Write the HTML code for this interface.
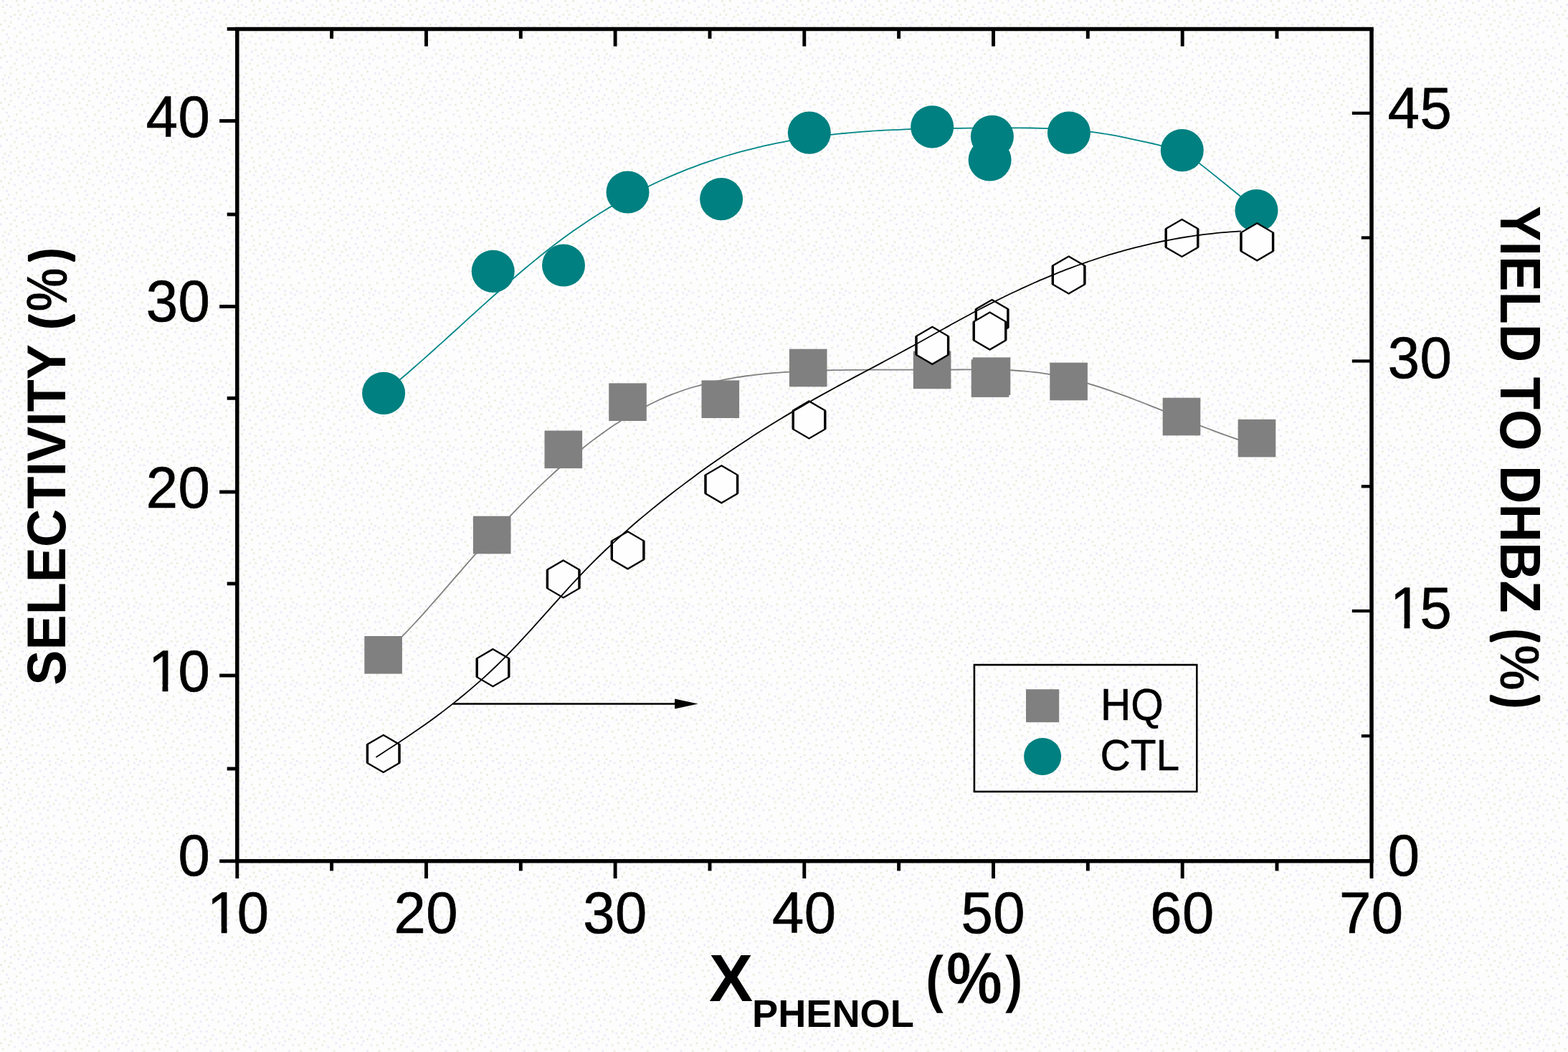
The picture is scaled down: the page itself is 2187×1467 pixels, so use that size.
<!DOCTYPE html>
<html lang="en"><head><meta charset="utf-8"><title>Selectivity and yield vs phenol conversion</title>
<style>
html,body{margin:0;padding:0;background:#fdfdfd;}
body{width:2187px;height:1467px;}
svg{display:block;}
text{font-family:"Liberation Sans",Arial,Helvetica,sans-serif;fill:#000;font-kerning:none;}
.tk{font-size:79.6px;letter-spacing:0.5px;stroke:#000;stroke-width:0.7px;}
.lg{font-size:58.6px;stroke:#000;stroke-width:0.5px;}
.b{font-weight:bold;}
</style></head><body>
<svg width="2187" height="1467" viewBox="0 0 2187 1467">
<defs><pattern id="dz" x="0" y="0" width="109.350" height="109.274" patternUnits="userSpaceOnUse">
<path d="M54.7 24.6h2.73v2.73h-2.73zM98.4 8.2h2.73v2.73h-2.73zM49.2 65.6h2.73v2.73h-2.73zM71.1 92.9h2.73v2.73h-2.73zM82.0 27.3h2.73v2.73h-2.73zM60.1 2.7h2.73v2.73h-2.73zM95.7 95.6h2.73v2.73h-2.73zM54.7 90.2h2.73v2.73h-2.73zM68.3 76.5h2.73v2.73h-2.73zM43.7 46.4h2.73v2.73h-2.73zM30.1 32.8h2.73v2.73h-2.73zM76.5 0.0h2.73v2.73h-2.73zM106.6 24.6h2.73v2.73h-2.73zM38.3 79.2h2.73v2.73h-2.73zM65.6 35.5h2.73v2.73h-2.73zM8.2 46.4h2.73v2.73h-2.73zM54.7 41.0h2.73v2.73h-2.73zM90.2 79.2h2.73v2.73h-2.73zM0.0 92.9h2.73v2.73h-2.73zM49.2 16.4h2.73v2.73h-2.73zM13.7 8.2h2.73v2.73h-2.73zM54.7 79.2h2.73v2.73h-2.73zM92.9 19.1h2.73v2.73h-2.73zM62.9 57.4h2.73v2.73h-2.73zM71.1 8.2h2.73v2.73h-2.73zM32.8 51.9h2.73v2.73h-2.73zM2.7 0.0h2.73v2.73h-2.73zM46.5 79.2h2.73v2.73h-2.73zM13.7 76.5h2.73v2.73h-2.73zM95.7 60.1h2.73v2.73h-2.73zM92.9 0.0h2.73v2.73h-2.73zM82.0 82.0h2.73v2.73h-2.73zM73.8 43.7h2.73v2.73h-2.73zM84.7 101.1h2.73v2.73h-2.73zM24.6 24.6h2.73v2.73h-2.73zM38.3 87.4h2.73v2.73h-2.73zM60.1 16.4h2.73v2.73h-2.73zM35.5 27.3h2.73v2.73h-2.73zM30.1 76.5h2.73v2.73h-2.73zM84.7 49.2h2.73v2.73h-2.73zM19.1 57.4h2.73v2.73h-2.73zM8.2 84.7h2.73v2.73h-2.73zM21.9 82.0h2.73v2.73h-2.73zM57.4 49.2h2.73v2.73h-2.73zM79.3 35.5h2.73v2.73h-2.73zM98.4 84.7h2.73v2.73h-2.73zM68.3 30.1h2.73v2.73h-2.73zM10.9 106.5h2.73v2.73h-2.73zM76.5 87.4h2.73v2.73h-2.73zM32.8 101.1h2.73v2.73h-2.73zM84.7 76.5h2.73v2.73h-2.73zM57.4 68.3h2.73v2.73h-2.73zM46.5 92.9h2.73v2.73h-2.73zM51.9 2.7h2.73v2.73h-2.73zM21.9 71.0h2.73v2.73h-2.73zM92.9 51.9h2.73v2.73h-2.73zM62.9 87.4h2.73v2.73h-2.73zM68.3 16.4h2.73v2.73h-2.73zM46.5 27.3h2.73v2.73h-2.73zM41.0 13.7h2.73v2.73h-2.73zM35.5 38.2h2.73v2.73h-2.73zM10.9 51.9h2.73v2.73h-2.73zM35.5 60.1h2.73v2.73h-2.73zM76.5 21.9h2.73v2.73h-2.73zM76.5 79.2h2.73v2.73h-2.73zM8.2 5.5h2.73v2.73h-2.73zM60.1 98.3h2.73v2.73h-2.73zM19.1 38.2h2.73v2.73h-2.73zM13.7 21.9h2.73v2.73h-2.73zM60.1 32.8h2.73v2.73h-2.73zM106.6 5.5h2.73v2.73h-2.73zM90.2 101.1h2.73v2.73h-2.73zM57.4 10.9h2.73v2.73h-2.73z" fill="#e9e9f8"/>
<path d="M101.1 68.3h2.73v2.73h-2.73zM19.1 87.4h2.73v2.73h-2.73zM24.6 13.7h2.73v2.73h-2.73zM10.9 35.5h2.73v2.73h-2.73zM27.3 60.1h2.73v2.73h-2.73zM73.8 57.4h2.73v2.73h-2.73zM41.0 101.1h2.73v2.73h-2.73zM90.2 43.7h2.73v2.73h-2.73zM106.6 49.2h2.73v2.73h-2.73zM43.7 8.2h2.73v2.73h-2.73zM13.7 65.6h2.73v2.73h-2.73zM13.7 101.1h2.73v2.73h-2.73zM0.0 79.2h2.73v2.73h-2.73zM95.7 32.8h2.73v2.73h-2.73zM76.5 68.3h2.73v2.73h-2.73zM21.9 49.2h2.73v2.73h-2.73zM65.6 46.4h2.73v2.73h-2.73zM79.3 13.7h2.73v2.73h-2.73zM32.8 0.0h2.73v2.73h-2.73zM30.1 90.2h2.73v2.73h-2.73zM32.8 10.9h2.73v2.73h-2.73zM38.3 21.9h2.73v2.73h-2.73zM5.5 16.4h2.73v2.73h-2.73zM27.3 68.3h2.73v2.73h-2.73zM21.9 0.0h2.73v2.73h-2.73zM51.9 101.1h2.73v2.73h-2.73zM87.5 65.6h2.73v2.73h-2.73zM27.3 43.7h2.73v2.73h-2.73zM2.7 8.2h2.73v2.73h-2.73zM2.7 68.3h2.73v2.73h-2.73zM103.9 41.0h2.73v2.73h-2.73zM41.0 35.5h2.73v2.73h-2.73zM0.0 60.1h2.73v2.73h-2.73zM103.9 103.8h2.73v2.73h-2.73zM65.6 24.6h2.73v2.73h-2.73zM41.0 68.3h2.73v2.73h-2.73zM65.6 68.3h2.73v2.73h-2.73zM51.9 54.6h2.73v2.73h-2.73zM51.9 32.8h2.73v2.73h-2.73zM24.6 5.5h2.73v2.73h-2.73zM87.5 92.9h2.73v2.73h-2.73zM65.6 103.8h2.73v2.73h-2.73zM98.4 76.5h2.73v2.73h-2.73zM73.8 27.3h2.73v2.73h-2.73zM13.7 30.1h2.73v2.73h-2.73zM43.7 54.6h2.73v2.73h-2.73zM0.0 32.8h2.73v2.73h-2.73zM95.7 24.6h2.73v2.73h-2.73zM103.9 13.7h2.73v2.73h-2.73zM5.5 27.3h2.73v2.73h-2.73zM19.1 19.1h2.73v2.73h-2.73zM73.8 98.3h2.73v2.73h-2.73zM27.3 19.1h2.73v2.73h-2.73zM68.3 0.0h2.73v2.73h-2.73zM101.1 19.1h2.73v2.73h-2.73zM35.5 73.8h2.73v2.73h-2.73zM87.5 35.5h2.73v2.73h-2.73zM87.5 16.4h2.73v2.73h-2.73zM84.7 2.7h2.73v2.73h-2.73zM21.9 95.6h2.73v2.73h-2.73zM13.7 92.9h2.73v2.73h-2.73zM5.5 103.8h2.73v2.73h-2.73zM60.1 73.8h2.73v2.73h-2.73zM101.1 98.3h2.73v2.73h-2.73zM49.2 106.5h2.73v2.73h-2.73zM5.5 76.5h2.73v2.73h-2.73zM79.3 73.8h2.73v2.73h-2.73zM43.7 84.7h2.73v2.73h-2.73zM43.7 19.1h2.73v2.73h-2.73zM68.3 82.0h2.73v2.73h-2.73zM2.7 41.0h2.73v2.73h-2.73zM8.2 57.4h2.73v2.73h-2.73z" fill="#ecebdd"/>
</pattern></defs>
<rect x="0" y="0" width="2187" height="1467" fill="#fdfdfd"/>
<rect x="0" y="0" width="2187" height="1467" fill="url(#dz)"/>
<path d="M534.6 913.3 C537.2 910.9 544.9 903.7 550.0 898.6 C555.2 893.5 560.3 888.2 565.4 882.9 C570.6 877.5 575.7 872.0 580.9 866.4 C586.0 860.8 591.2 855.1 596.3 849.3 C601.4 843.5 606.6 837.7 611.7 831.8 C616.9 825.9 622.0 820.0 627.1 814.1 C632.3 808.2 637.4 802.2 642.6 796.3 C647.7 790.4 652.8 784.5 658.0 778.7 C663.1 772.8 668.3 767.0 673.4 761.3 C678.5 755.5 683.7 749.8 688.8 744.1 C694.0 738.5 699.1 732.9 704.3 727.4 C709.4 721.9 714.5 716.5 719.7 711.1 C724.8 705.8 730.0 700.5 735.1 695.4 C740.2 690.2 745.4 685.2 750.5 680.2 C755.7 675.2 760.8 670.3 765.9 665.6 C771.1 660.8 776.2 656.1 781.4 651.5 C786.5 647.0 791.6 642.5 796.8 638.2 C801.9 633.8 807.1 629.6 812.2 625.5 C817.4 621.3 822.5 617.3 827.6 613.4 C832.8 609.6 837.9 605.8 843.1 602.2 C848.2 598.5 853.3 595.0 858.5 591.6 C863.6 588.2 868.8 585.0 873.9 581.8 C879.0 578.7 884.2 575.7 889.3 572.9 C894.5 570.0 899.6 567.3 904.7 564.7 C909.9 562.1 915.0 559.6 920.2 557.3 C925.3 555.0 930.5 552.8 935.6 550.7 C940.7 548.7 945.9 546.8 951.0 545.0 C956.2 543.2 961.3 541.6 966.4 540.0 C971.6 538.5 976.7 537.1 981.9 535.8 C987.0 534.4 992.1 533.2 997.3 532.1 C1002.4 530.9 1007.6 529.9 1012.7 528.9 C1017.8 528.0 1023.0 527.1 1028.1 526.2 C1033.3 525.4 1038.4 524.7 1043.6 524.0 C1048.7 523.3 1053.8 522.7 1059.0 522.1 C1064.1 521.5 1069.3 521.0 1074.4 520.5 C1079.5 520.1 1084.7 519.7 1089.8 519.3 C1095.0 518.9 1100.1 518.6 1105.2 518.3 C1110.4 518.0 1115.5 517.7 1120.7 517.5 C1125.8 517.3 1130.9 517.1 1136.1 516.9 C1141.2 516.8 1146.4 516.6 1151.5 516.5 C1156.7 516.4 1161.8 516.3 1166.9 516.2 C1172.1 516.1 1177.2 516.0 1182.4 515.9 C1187.5 515.9 1192.6 515.8 1197.8 515.8 C1202.9 515.7 1208.1 515.7 1213.2 515.7 C1218.3 515.7 1223.5 515.7 1228.6 515.6 C1233.8 515.6 1238.9 515.6 1244.0 515.6 C1249.2 515.6 1254.3 515.6 1259.5 515.6 C1264.6 515.6 1269.8 515.7 1274.9 515.7 C1280.0 515.7 1285.2 515.7 1290.3 515.7 C1295.5 515.7 1300.6 515.7 1305.7 515.7 C1310.9 515.7 1316.0 515.6 1321.2 515.6 C1326.3 515.6 1331.4 515.6 1336.6 515.5 C1341.7 515.5 1346.9 515.4 1352.0 515.4 C1357.1 515.4 1362.3 515.4 1367.4 515.4 C1372.6 515.4 1377.7 515.4 1382.9 515.5 C1388.0 515.6 1393.1 515.7 1398.3 515.9 C1403.4 516.0 1408.6 516.2 1413.7 516.5 C1418.8 516.8 1424.0 517.2 1429.1 517.6 C1434.3 518.1 1439.4 518.6 1444.5 519.2 C1449.7 519.9 1454.8 520.6 1460.0 521.4 C1465.1 522.3 1470.2 523.2 1475.4 524.2 C1480.5 525.3 1485.7 526.4 1490.8 527.7 C1496.0 528.9 1501.1 530.2 1506.2 531.6 C1511.4 533.0 1516.5 534.5 1521.7 536.1 C1526.8 537.6 1531.9 539.2 1537.1 540.9 C1542.2 542.6 1547.4 544.4 1552.5 546.2 C1557.6 548.0 1562.8 549.8 1567.9 551.7 C1573.1 553.6 1578.2 555.5 1583.3 557.5 C1588.5 559.5 1593.6 561.5 1598.8 563.5 C1603.9 565.5 1609.1 567.5 1614.2 569.6 C1619.3 571.6 1624.5 573.7 1629.6 575.8 C1634.8 577.9 1639.9 579.9 1645.0 582.0 C1650.2 584.1 1655.3 586.1 1660.5 588.2 C1665.6 590.2 1670.7 592.3 1675.9 594.3 C1681.0 596.3 1686.2 598.2 1691.3 600.2 C1696.4 602.1 1701.6 604.0 1706.7 605.9 C1711.9 607.8 1717.0 609.6 1722.2 611.3 C1727.3 613.1 1732.4 614.8 1737.6 616.5 C1742.7 618.1 1750.4 620.4 1753.0 621.2" fill="none" stroke="#808080" stroke-width="1.8"/>
<g fill="#808080">
<rect x="508.3" y="887.0" width="52.6" height="52.6"/>
<rect x="659.9" y="719.7" width="52.6" height="52.6"/>
<rect x="759.5" y="600.5" width="52.6" height="52.6"/>
<rect x="849.2" y="534.4" width="52.6" height="52.6"/>
<rect x="978.5" y="530.4" width="52.6" height="52.6"/>
<rect x="1100.9" y="486.7" width="52.6" height="52.6"/>
<rect x="1273.8" y="489.6" width="52.6" height="52.6"/>
<rect x="1354.7" y="501.3" width="52.6" height="52.6"/>
<rect x="1356.7" y="498.4" width="52.6" height="52.6"/>
<rect x="1464.3" y="505.7" width="52.6" height="52.6"/>
<rect x="1621.7" y="554.7" width="52.6" height="52.6"/>
<rect x="1726.7" y="584.8" width="52.6" height="52.6"/>
</g>
<path d="M535.1 548.4 C537.4 546.5 544.5 540.7 549.2 536.8 C553.9 532.8 558.6 528.8 563.3 524.8 C568.0 520.7 572.7 516.7 577.4 512.5 C582.1 508.4 586.8 504.3 591.5 500.1 C596.2 495.9 600.9 491.7 605.6 487.5 C610.3 483.3 615.0 479.0 619.7 474.8 C624.4 470.5 629.1 466.2 633.8 462.0 C638.5 457.7 643.2 453.4 647.9 449.1 C652.6 444.8 657.3 440.6 662.0 436.3 C666.7 432.1 671.4 427.8 676.1 423.6 C680.8 419.4 685.5 415.1 690.2 411.0 C694.9 406.8 699.6 402.6 704.3 398.5 C709.0 394.4 713.7 390.3 718.4 386.3 C723.1 382.2 727.8 378.2 732.5 374.3 C737.2 370.3 741.9 366.4 746.6 362.6 C751.3 358.7 756.0 355.0 760.7 351.2 C765.4 347.5 770.1 343.9 774.8 340.3 C779.5 336.7 784.2 333.2 788.9 329.8 C793.6 326.4 798.3 323.0 803.0 319.8 C807.7 316.5 812.4 313.3 817.0 310.2 C821.7 307.0 826.4 304.0 831.1 301.0 C835.8 298.0 840.5 295.1 845.2 292.2 C849.9 289.4 854.6 286.6 859.3 283.9 C864.0 281.2 868.7 278.6 873.4 276.0 C878.1 273.4 882.8 270.9 887.5 268.5 C892.2 266.0 896.9 263.6 901.6 261.3 C906.3 259.0 911.0 256.7 915.7 254.5 C920.4 252.4 925.1 250.2 929.8 248.1 C934.5 246.1 939.2 244.1 943.9 242.1 C948.6 240.2 953.3 238.3 958.0 236.4 C962.7 234.6 967.4 232.8 972.1 231.1 C976.8 229.3 981.5 227.7 986.2 226.1 C990.9 224.4 995.6 222.9 1000.3 221.4 C1005.0 219.8 1009.7 218.4 1014.4 217.0 C1019.1 215.6 1023.8 214.2 1028.5 212.9 C1033.2 211.6 1037.9 210.3 1042.6 209.1 C1047.3 207.9 1052.0 206.7 1056.7 205.6 C1061.4 204.5 1066.1 203.4 1070.8 202.4 C1075.5 201.4 1080.2 200.4 1084.9 199.4 C1089.6 198.5 1094.3 197.6 1099.0 196.7 C1103.7 195.9 1108.4 195.1 1113.1 194.3 C1117.8 193.5 1122.5 192.8 1127.2 192.1 C1131.9 191.4 1136.6 190.7 1141.3 190.1 C1146.0 189.5 1150.7 188.9 1155.4 188.3 C1160.1 187.7 1164.8 187.2 1169.5 186.7 C1174.2 186.2 1178.9 185.8 1183.6 185.3 C1188.3 184.9 1193.0 184.5 1197.7 184.1 C1202.4 183.7 1207.1 183.4 1211.8 183.1 C1216.5 182.7 1221.2 182.4 1225.9 182.2 C1230.6 181.9 1235.3 181.6 1240.0 181.4 C1244.7 181.2 1249.4 180.9 1254.1 180.8 C1258.8 180.6 1263.5 180.4 1268.2 180.2 C1272.9 180.1 1277.6 179.9 1282.3 179.8 C1287.0 179.7 1291.7 179.6 1296.4 179.5 C1301.1 179.4 1305.8 179.3 1310.5 179.2 C1315.2 179.1 1319.9 179.0 1324.6 179.0 C1329.3 178.9 1334.0 178.9 1338.7 178.8 C1343.4 178.8 1348.1 178.8 1352.8 178.7 C1357.5 178.7 1362.2 178.7 1366.9 178.6 C1371.5 178.6 1376.2 178.6 1380.9 178.6 C1385.6 178.5 1390.3 178.5 1395.0 178.5 C1399.7 178.5 1404.4 178.5 1409.1 178.4 C1413.8 178.4 1418.5 178.4 1423.2 178.4 C1427.9 178.5 1432.6 178.5 1437.3 178.5 C1442.0 178.6 1446.7 178.7 1451.4 178.8 C1456.1 178.9 1460.8 179.0 1465.5 179.2 C1470.2 179.4 1474.9 179.6 1479.6 179.9 C1484.3 180.2 1489.0 180.5 1493.7 180.8 C1498.4 181.2 1503.1 181.6 1507.8 182.1 C1512.5 182.6 1517.2 183.1 1521.9 183.8 C1526.6 184.4 1531.3 185.1 1536.0 185.8 C1540.7 186.5 1545.4 187.3 1550.1 188.2 C1554.8 189.0 1559.5 189.9 1564.2 190.9 C1568.9 191.8 1573.6 192.8 1578.3 193.8 C1583.0 194.8 1587.7 195.8 1592.4 196.9 C1597.1 197.9 1601.8 199.0 1606.5 200.0 C1611.2 201.1 1615.9 202.2 1620.6 203.3 C1625.3 204.4 1630.0 205.5 1634.7 206.5 C1639.4 207.6 1646.5 209.2 1648.8 209.7" fill="none" stroke="#008686" stroke-width="1.8"/>
<path d="M1648.8 209.7 C1653.0 212.8 1660.9 218.2 1674.0 228.6 C1687.1 238.9 1714.5 261.0 1727.6 271.8 C1740.7 282.6 1748.3 289.9 1752.5 293.5" fill="none" stroke="#008686" stroke-width="1.8"/>
<g fill="#008080">
<ellipse cx="535.1" cy="548.4" rx="30" ry="29.6"/>
<ellipse cx="687.7" cy="378.3" rx="30" ry="29.6"/>
<ellipse cx="786.0" cy="370.0" rx="30" ry="29.6"/>
<ellipse cx="875.5" cy="268.0" rx="30" ry="29.6"/>
<ellipse cx="1006.1" cy="277.6" rx="30" ry="29.6"/>
<ellipse cx="1128.8" cy="185.1" rx="30" ry="29.6"/>
<ellipse cx="1300.2" cy="176.8" rx="30" ry="29.6"/>
<ellipse cx="1383.9" cy="190.4" rx="30" ry="29.6"/>
<ellipse cx="1380.6" cy="223.0" rx="30" ry="29.6"/>
<ellipse cx="1490.9" cy="185.1" rx="30" ry="29.6"/>
<ellipse cx="1648.8" cy="209.7" rx="30" ry="29.6"/>
<ellipse cx="1752.5" cy="293.5" rx="30" ry="29.6"/>
</g>
<polygon points="534.7,1025.0 557.0,1038.0 557.0,1064.0 534.7,1077.0 512.4,1064.0 512.4,1038.0" fill="#fefefe" stroke="#000" stroke-width="2.3" stroke-linejoin="miter"/>
<path d="M512.4 1038.0V1064.0M557.0 1038.0V1064.0" stroke="#000" stroke-width="3.4" fill="none"/>
<polygon points="687.5,905.2 709.8,918.2 709.8,944.2 687.5,957.2 665.2,944.2 665.2,918.2" fill="#fefefe" stroke="#000" stroke-width="2.3" stroke-linejoin="miter"/>
<path d="M665.2 918.2V944.2M709.8 918.2V944.2" stroke="#000" stroke-width="3.4" fill="none"/>
<polygon points="785.7,781.4 808.0,794.4 808.0,820.4 785.7,833.4 763.4,820.4 763.4,794.4" fill="#fefefe" stroke="#000" stroke-width="2.3" stroke-linejoin="miter"/>
<path d="M763.4 794.4V820.4M808.0 794.4V820.4" stroke="#000" stroke-width="3.4" fill="none"/>
<polygon points="875.6,741.3 897.9,754.3 897.9,780.3 875.6,793.3 853.3,780.3 853.3,754.3" fill="#fefefe" stroke="#000" stroke-width="2.3" stroke-linejoin="miter"/>
<path d="M853.3 754.3V780.3M897.9 754.3V780.3" stroke="#000" stroke-width="3.4" fill="none"/>
<polygon points="1006.3,649.3 1028.6,662.3 1028.6,688.3 1006.3,701.3 984.0,688.3 984.0,662.3" fill="#fefefe" stroke="#000" stroke-width="2.3" stroke-linejoin="miter"/>
<path d="M984.0 662.3V688.3M1028.6 662.3V688.3" stroke="#000" stroke-width="3.4" fill="none"/>
<polygon points="1128.5,559.4 1150.8,572.4 1150.8,598.4 1128.5,611.4 1106.2,598.4 1106.2,572.4" fill="#fefefe" stroke="#000" stroke-width="2.3" stroke-linejoin="miter"/>
<path d="M1106.2 572.4V598.4M1150.8 572.4V598.4" stroke="#000" stroke-width="3.4" fill="none"/>
<polygon points="1300.3,455.8 1322.6,468.8 1322.6,494.8 1300.3,507.8 1278.0,494.8 1278.0,468.8" fill="#fefefe" stroke="#000" stroke-width="2.3" stroke-linejoin="miter"/>
<path d="M1278.0 468.8V494.8M1322.6 468.8V494.8" stroke="#000" stroke-width="3.4" fill="none"/>
<polygon points="1383.6,418.0 1405.9,431.0 1405.9,457.0 1383.6,470.0 1361.3,457.0 1361.3,431.0" fill="#fefefe" stroke="#000" stroke-width="2.3" stroke-linejoin="miter"/>
<path d="M1361.3 431.0V457.0M1405.9 431.0V457.0" stroke="#000" stroke-width="3.4" fill="none"/>
<polygon points="1380.5,435.6 1402.8,448.6 1402.8,474.6 1380.5,487.6 1358.2,474.6 1358.2,448.6" fill="#fefefe" stroke="#000" stroke-width="2.3" stroke-linejoin="miter"/>
<path d="M1358.2 448.6V474.6M1402.8 448.6V474.6" stroke="#000" stroke-width="3.4" fill="none"/>
<polygon points="1490.6,357.5 1512.9,370.5 1512.9,396.5 1490.6,409.5 1468.3,396.5 1468.3,370.5" fill="#fefefe" stroke="#000" stroke-width="2.3" stroke-linejoin="miter"/>
<path d="M1468.3 370.5V396.5M1512.9 370.5V396.5" stroke="#000" stroke-width="3.4" fill="none"/>
<polygon points="1648.5,306.0 1670.8,319.0 1670.8,345.0 1648.5,358.0 1626.2,345.0 1626.2,319.0" fill="#fefefe" stroke="#000" stroke-width="2.3" stroke-linejoin="miter"/>
<path d="M1626.2 319.0V345.0M1670.8 319.0V345.0" stroke="#000" stroke-width="3.4" fill="none"/>
<polygon points="1753.3,311.3 1775.6,324.3 1775.6,350.3 1753.3,363.3 1731.0,350.3 1731.0,324.3" fill="#fefefe" stroke="#000" stroke-width="2.3" stroke-linejoin="miter"/>
<path d="M1731.0 324.3V350.3M1775.6 324.3V350.3" stroke="#000" stroke-width="3.4" fill="none"/>
<path d="M524.4 1055.9 C526.9 1054.3 534.6 1049.4 539.7 1046.1 C544.8 1042.8 549.9 1039.5 554.9 1036.2 C560.0 1032.8 565.1 1029.4 570.2 1026.0 C575.3 1022.5 580.4 1019.1 585.5 1015.5 C590.6 1012.0 595.7 1008.4 600.8 1004.7 C605.8 1001.0 610.9 997.2 616.0 993.4 C621.1 989.6 626.2 985.6 631.3 981.6 C636.4 977.6 641.5 973.5 646.6 969.3 C651.7 965.1 656.7 960.8 661.8 956.4 C666.9 952.0 672.0 947.5 677.1 942.8 C682.2 938.2 687.3 933.4 692.4 928.5 C697.5 923.6 702.6 918.5 707.7 913.4 C712.7 908.2 717.8 902.8 722.9 897.4 C728.0 892.0 733.1 886.4 738.2 880.9 C743.3 875.3 748.4 869.6 753.5 863.9 C758.6 858.2 763.6 852.5 768.7 846.8 C773.8 841.1 778.9 835.4 784.0 829.8 C789.1 824.2 794.2 818.5 799.3 813.1 C804.4 807.6 809.5 802.2 814.5 796.9 C819.6 791.6 824.7 786.4 829.8 781.4 C834.9 776.3 840.0 771.4 845.1 766.5 C850.2 761.7 855.3 756.9 860.4 752.3 C865.4 747.6 870.5 743.0 875.6 738.6 C880.7 734.1 885.8 729.7 890.9 725.3 C896.0 721.0 901.1 716.8 906.2 712.6 C911.3 708.4 916.4 704.3 921.4 700.2 C926.5 696.2 931.6 692.2 936.7 688.2 C941.8 684.3 946.9 680.4 952.0 676.6 C957.1 672.7 962.2 668.9 967.3 665.2 C972.3 661.4 977.4 657.7 982.5 654.1 C987.6 650.4 992.7 646.8 997.8 643.3 C1002.9 639.7 1008.0 636.2 1013.1 632.7 C1018.2 629.2 1023.2 625.8 1028.3 622.4 C1033.4 619.0 1038.5 615.7 1043.6 612.4 C1048.7 609.1 1053.8 605.8 1058.9 602.6 C1064.0 599.4 1069.1 596.2 1074.2 593.0 C1079.2 589.9 1084.3 586.8 1089.4 583.7 C1094.5 580.6 1099.6 577.6 1104.7 574.6 C1109.8 571.6 1114.9 568.6 1120.0 565.7 C1125.1 562.7 1130.1 559.8 1135.2 556.9 C1140.3 554.1 1145.4 551.2 1150.5 548.4 C1155.6 545.6 1160.7 542.8 1165.8 540.0 C1170.9 537.3 1176.0 534.5 1181.0 531.8 C1186.1 529.0 1191.2 526.3 1196.3 523.6 C1201.4 520.9 1206.5 518.2 1211.6 515.5 C1216.7 512.8 1221.8 510.1 1226.9 507.4 C1232.0 504.7 1237.0 501.9 1242.1 499.2 C1247.2 496.5 1252.3 493.8 1257.4 491.0 C1262.5 488.2 1267.6 485.5 1272.7 482.7 C1277.8 479.9 1282.9 477.1 1287.9 474.3 C1293.0 471.4 1298.1 468.6 1303.2 465.7 C1308.3 462.9 1313.4 460.0 1318.5 457.2 C1323.6 454.4 1328.7 451.5 1333.8 448.8 C1338.8 446.0 1343.9 443.2 1349.0 440.5 C1354.1 437.7 1359.2 435.0 1364.3 432.3 C1369.4 429.7 1374.5 427.0 1379.6 424.4 C1384.7 421.8 1389.8 419.3 1394.8 416.8 C1399.9 414.2 1405.0 411.8 1410.1 409.3 C1415.2 406.9 1420.3 404.5 1425.4 402.1 C1430.5 399.8 1435.6 397.5 1440.7 395.2 C1445.7 393.0 1450.8 390.7 1455.9 388.6 C1461.0 386.4 1466.1 384.3 1471.2 382.3 C1476.3 380.2 1481.4 378.2 1486.5 376.2 C1491.6 374.3 1496.6 372.4 1501.7 370.5 C1506.8 368.7 1511.9 366.9 1517.0 365.1 C1522.1 363.4 1527.2 361.7 1532.3 360.0 C1537.4 358.4 1542.5 356.8 1547.5 355.2 C1552.6 353.7 1557.7 352.2 1562.8 350.8 C1567.9 349.3 1573.0 347.9 1578.1 346.6 C1583.2 345.3 1588.3 344.0 1593.4 342.8 C1598.5 341.5 1603.5 340.4 1608.6 339.2 C1613.7 338.1 1618.8 337.0 1623.9 336.0 C1629.0 335.0 1634.1 334.0 1639.2 333.1 C1644.3 332.2 1649.4 331.3 1654.4 330.5 C1659.5 329.7 1664.6 329.0 1669.7 328.2 C1674.8 327.5 1679.9 326.9 1685.0 326.3 C1690.1 325.7 1695.2 325.1 1700.3 324.6 C1705.3 324.1 1710.4 323.7 1715.5 323.3 C1720.6 322.9 1728.3 322.4 1730.8 322.3" fill="none" stroke="#000" stroke-width="1.8"/>
<line x1="631.4" y1="981.5" x2="945" y2="981.5" stroke="#000" stroke-width="2.6"/>
<polygon points="941.1,974.6 973.6,981.5 941.1,988.4" fill="#000"/>
<g stroke="#000" stroke-width="5.5" fill="none" stroke-linecap="butt">
<line x1="328.1" y1="40.4" x2="1915.8" y2="40.4"/>
<line x1="328.1" y1="1200.8" x2="1915.8" y2="1200.8"/>
<line x1="330.8" y1="40.4" x2="330.8" y2="1200.8"/>
<line x1="1913.0" y1="40.4" x2="1913.0" y2="1200.8"/>
</g>
<g stroke="#000" stroke-width="4.9" fill="none" stroke-linecap="butt">
<line x1="330.8" y1="1200.8" x2="330.8" y2="1225.0"/>
<line x1="462.6" y1="1200.8" x2="462.6" y2="1214.4"/>
<line x1="462.6" y1="40.4" x2="462.6" y2="53.9"/>
<line x1="594.5" y1="1200.8" x2="594.5" y2="1225.0"/>
<line x1="594.5" y1="40.4" x2="594.5" y2="64.6"/>
<line x1="726.3" y1="1200.8" x2="726.3" y2="1214.4"/>
<line x1="726.3" y1="40.4" x2="726.3" y2="53.9"/>
<line x1="858.1" y1="1200.8" x2="858.1" y2="1225.0"/>
<line x1="858.1" y1="40.4" x2="858.1" y2="64.6"/>
<line x1="990.0" y1="1200.8" x2="990.0" y2="1214.4"/>
<line x1="990.0" y1="40.4" x2="990.0" y2="53.9"/>
<line x1="1121.8" y1="1200.8" x2="1121.8" y2="1225.0"/>
<line x1="1121.8" y1="40.4" x2="1121.8" y2="64.6"/>
<line x1="1253.6" y1="1200.8" x2="1253.6" y2="1214.4"/>
<line x1="1253.6" y1="40.4" x2="1253.6" y2="53.9"/>
<line x1="1385.5" y1="1200.8" x2="1385.5" y2="1225.0"/>
<line x1="1385.5" y1="40.4" x2="1385.5" y2="64.6"/>
<line x1="1517.3" y1="1200.8" x2="1517.3" y2="1214.4"/>
<line x1="1517.3" y1="40.4" x2="1517.3" y2="53.9"/>
<line x1="1649.2" y1="1200.8" x2="1649.2" y2="1225.0"/>
<line x1="1649.2" y1="40.4" x2="1649.2" y2="64.6"/>
<line x1="1781.0" y1="1200.8" x2="1781.0" y2="1214.4"/>
<line x1="1781.0" y1="40.4" x2="1781.0" y2="53.9"/>
<line x1="1913.0" y1="1200.8" x2="1913.0" y2="1225.0"/>
<line x1="306.1" y1="1200.8" x2="330.8" y2="1200.8"/>
<line x1="316.7" y1="1072.0" x2="330.8" y2="1072.0"/>
<line x1="306.1" y1="942.0" x2="330.8" y2="942.0"/>
<line x1="316.7" y1="813.9" x2="330.8" y2="813.9"/>
<line x1="306.1" y1="686.0" x2="330.8" y2="686.0"/>
<line x1="316.7" y1="555.3" x2="330.8" y2="555.3"/>
<line x1="306.1" y1="427.4" x2="330.8" y2="427.4"/>
<line x1="316.7" y1="299.0" x2="330.8" y2="299.0"/>
<line x1="306.1" y1="168.6" x2="330.8" y2="168.6"/>
<line x1="316.7" y1="40.4" x2="330.8" y2="40.4"/>
<line x1="1898.8" y1="1026.3" x2="1913.0" y2="1026.3" stroke-width="4.3"/>
<line x1="1885.8" y1="852.0" x2="1913.0" y2="852.0" stroke-width="4.3"/>
<line x1="1898.8" y1="678.3" x2="1913.0" y2="678.3" stroke-width="4.3"/>
<line x1="1885.8" y1="503.5" x2="1913.0" y2="503.5" stroke-width="4.3"/>
<line x1="1898.8" y1="331.5" x2="1913.0" y2="331.5" stroke-width="4.3"/>
<line x1="1885.8" y1="157.8" x2="1913.0" y2="157.8" stroke-width="4.3"/>
</g>
<rect x="1358.9" y="927.1" width="310.4" height="176.8" fill="none" stroke="#000" stroke-width="2.6"/>
<rect x="1431" y="961.2" width="46.2" height="46" fill="#808080"/>
<circle cx="1454.1" cy="1055" r="26" fill="#008080"/>
<text class="lg" transform="translate(1534.9,1004.3) scale(1,1.065)">HQ</text>
<text class="lg" transform="translate(1534.4,1073.7) scale(1,1.05)">CTL</text>
<g transform="translate(285.9,1300.8) scale(1,1.020)">
<text class="tk" x="0" y="0"><tspan dx="3.2">1</tspan><tspan dx="-3.2">0</tspan></text>
<path d="M7.8 -8.3H22.8V2.0H7.8ZM30.7 -8.3H45.1V2.0H30.7Z" fill="#fdfdfd"/>
</g>
<text class="tk" transform="translate(549.6,1300.8) scale(1,1.020)">20</text>
<text class="tk" transform="translate(813.2,1300.8) scale(1,1.020)">30</text>
<text class="tk" transform="translate(1076.9,1300.8) scale(1,1.020)">40</text>
<text class="tk" transform="translate(1340.6,1300.8) scale(1,1.020)">50</text>
<text class="tk" transform="translate(1604.2,1300.8) scale(1,1.020)">60</text>
<text class="tk" transform="translate(1867.9,1300.8) scale(1,1.020)">70</text>
<text class="tk" transform="translate(248.4,1221.4) scale(1,1.020)">0</text>
<g transform="translate(203.7,963.9) scale(1,1.020)">
<text class="tk" x="0" y="0"><tspan dx="3.2">1</tspan><tspan dx="-3.2">0</tspan></text>
<path d="M7.8 -8.3H22.8V2.0H7.8ZM30.7 -8.3H45.1V2.0H30.7Z" fill="#fdfdfd"/>
</g>
<text class="tk" transform="translate(203.7,707.8) scale(1,1.020)">20</text>
<text class="tk" transform="translate(203.7,448.1) scale(1,1.020)">30</text>
<text class="tk" transform="translate(203.7,190.9) scale(1,1.020)">40</text>
<text class="tk" transform="translate(1935.7,1221.4) scale(1,1.020)">0</text>
<g transform="translate(1935.7,876.0) scale(1,1.020)">
<text class="tk" x="0" y="0"><tspan dx="3.2">1</tspan><tspan dx="-3.2">5</tspan></text>
<path d="M7.8 -8.3H22.8V2.0H7.8ZM30.7 -8.3H45.1V2.0H30.7Z" fill="#fdfdfd"/>
</g>
<text class="tk" transform="translate(1935.7,526.9) scale(1,1.020)">30</text>
<text class="tk" transform="translate(1935.7,178.5) scale(1,1.020)">45</text>
<text class="b" style="font-size:73.83px" transform="translate(91.0,955.7) rotate(-90) scale(1,1.021)">SELECTIVITY</text>
<text class="b" style="font-size:55.98px" stroke="#000" stroke-width="3.0" stroke-linejoin="round" transform="translate(89.3,458.2) rotate(-90) scale(1,1.203)">(</text>
<text class="b" style="font-size:68.74px" stroke="#fdfdfd" stroke-width="0.6" transform="translate(93.4,434.5) rotate(-90) scale(1,1.191)">%</text>
<text class="b" style="font-size:48.19px" stroke="#000" stroke-width="3.0" stroke-linejoin="round" transform="translate(89.3,363.4) rotate(-90) scale(1,1.398)">)</text>
<text class="b" style="font-size:74.04px" transform="translate(2092.8,287.1) rotate(90) scale(1,1.066)">YIELD TO DHBZ</text>
<text class="b" style="font-size:46.42px" stroke="#000" stroke-width="3.0" stroke-linejoin="round" transform="translate(2094.9,878.5) rotate(90) scale(1,1.505)">(</text>
<text class="b" style="font-size:71.61px" stroke="#fdfdfd" stroke-width="0.6" transform="translate(2093.0,899.2) rotate(90) scale(1,1.090)">%</text>
<text class="b" style="font-size:47.83px" stroke="#000" stroke-width="3.0" stroke-linejoin="round" transform="translate(2094.9,970.5) rotate(90) scale(1,1.460)">)</text>
<text class="b" style="font-size:91.6px" transform="translate(988.9,1396) scale(1,1.015)">X</text>
<text class="b" style="font-size:54.2px" transform="translate(1049.0,1431.6)">PHENOL</text>
<text class="b" style="font-size:85.57px" stroke="#fdfdfd" stroke-width="2.2" transform="translate(1289.4,1395.4) scale(1,1.048)">(</text>
<text class="b" style="font-size:87.96px" stroke="#fdfdfd" stroke-width="0.6" transform="translate(1319.7,1399.1) scale(1,1.155)">%</text>
<text class="b" style="font-size:83.98px" stroke="#fdfdfd" stroke-width="2.2" transform="translate(1400.1,1395.4) scale(1,1.068)">)</text>
</svg></body></html>
